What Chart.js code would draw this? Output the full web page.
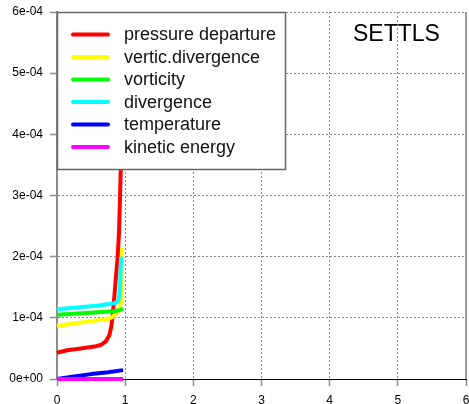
<!DOCTYPE html>
<html>
<head>
<meta charset="utf-8">
<script src="https://cdn.jsdelivr.net/npm/chart.js@4/dist/chart.umd.min.js"></script>
<style>
  html, body { margin: 0; padding: 0; background: #fff; }
  #wrap { width: 469px; height: 404px; position: relative; }
</style>
</head>
<body>
<div id="wrap"><canvas id="c" width="469" height="404"></canvas></div>
<script>
// ---- data ----
const seriesNames = ["pressure departure", "vertic.divergence", "vorticity", "divergence", "temperature", "kinetic energy"];
const seriesColors = ["#ff0000", "#ffff00", "#00ff00", "#00ffff", "#0000ff", "#ff00ff"];

const pressureX = [0, 0.15, 0.35, 0.55, 0.65, 0.72, 0.77, 0.80, 0.83, 0.86, 0.89, 0.91, 0.935, 0.96];
const pressureY = [0.43e-4, 0.47e-4, 0.50e-4, 0.53e-4, 0.56e-4, 0.62e-4, 0.72e-4, 0.88e-4, 1.2e-4, 1.6e-4, 2.0e-4, 2.4e-4, 3.4e-4, 5.0e-4];

const verticX = [0, 0.2, 0.4, 0.6, 0.75, 0.82, 0.87, 0.91, 0.94, 0.95, 0.955];
const verticY = [0.87e-4, 0.90e-4, 0.93e-4, 0.96e-4, 0.98e-4, 1.02e-4, 1.07e-4, 1.14e-4, 1.26e-4, 1.6e-4, 2.14e-4];

const vortX = [0, 0.3, 0.6, 0.85, 0.93, 0.97];
const vortY = [1.05e-4, 1.07e-4, 1.09e-4, 1.11e-4, 1.13e-4, 1.15e-4];

const divX = [0, 0.3, 0.6, 0.85, 0.9, 0.92, 0.93, 0.94];
const divY = [1.14e-4, 1.17e-4, 1.20e-4, 1.24e-4, 1.28e-4, 1.4e-4, 1.7e-4, 2.0e-4];

const tempX = [0, 0.25, 0.5, 0.75, 0.97];
const tempY = [0.0, 0.04e-4, 0.08e-4, 0.11e-4, 0.145e-4];

const keX = [0, 0.97];
const keY = [0, 0];

const xTickValues = [0, 1, 2, 3, 4, 5, 6];
const xTickLabels = ["0", "1", "2", "3", "4", "5", "6"];
const yTickValues = [0, 1e-4, 2e-4, 3e-4, 4e-4, 5e-4, 6e-4];
const yTickLabels = ["0e+00", "1e-04", "2e-04", "3e-04", "4e-04", "5e-04", "6e-04"];

const annotationText = "SETTLS";

// ---- build datasets ----
const xs = [pressureX, verticX, vortX, divX, tempX, keX];
const ys = [pressureY, verticY, vortY, divY, tempY, keY];
const datasets = seriesNames.map((name, i) => ({
  label: name,
  data: xs[i].map((x, j) => ({ x: x, y: ys[i][j] })),
  borderColor: seriesColors[i],
  backgroundColor: seriesColors[i],
  borderWidth: 4,
  pointRadius: 0,
  tension: 0,
  fill: false,
  clip: false,
  borderCapStyle: 'butt',
  borderJoinStyle: 'round',
  order: seriesNames.length - 1 - i
}));

const FONT = "'Liberation Sans', Arial, Helvetica, sans-serif";

const framePlugin = {
  id: 'frame',
  beforeDatasetsDraw(chart) {
    const { ctx, chartArea: a } = chart;
    ctx.save();
    ctx.strokeStyle = '#999999';
    ctx.lineWidth = 2;
    ctx.beginPath();
    ctx.moveTo(a.right, a.top);
    ctx.lineTo(a.right, a.bottom);
    ctx.stroke();
    ctx.restore();
  }
};

const legendPlugin = {
  id: 'boxLegend',
  afterDatasetsDraw(chart) {
    const { ctx, chartArea: a } = chart;
    const x0 = a.left, y0 = a.top, w = 228, h = 157;
    ctx.save();
    ctx.fillStyle = '#ffffff';
    ctx.fillRect(x0, y0, w, h);
    ctx.strokeStyle = '#666666';
    ctx.lineWidth = 1.5;
    ctx.strokeRect(x0 + 0.5, y0 + 0.5, w, h);
    ctx.font = "18px " + FONT;
    ctx.textBaseline = 'middle';
    ctx.fillStyle = '#111111';
    chart.data.datasets.forEach((ds, i) => {
      const y = y0 + 22.5 + i * 22.5;
      ctx.strokeStyle = ds.borderColor;
      ctx.lineWidth = 4;
      ctx.lineCap = 'round';
      ctx.beginPath();
      ctx.moveTo(x0 + 16, y);
      ctx.lineTo(x0 + 51, y);
      ctx.stroke();
      ctx.fillText(ds.label, x0 + 67, y + 1);
    });
    // annotation text
    ctx.font = "23px " + FONT;
    ctx.textBaseline = 'alphabetic';
    ctx.fillStyle = '#000000';
    ctx.fillText(annotationText, 353, 41);
    ctx.restore();
  }
};

new Chart(document.getElementById('c'), {
  type: 'line',
  data: { datasets: datasets },
  plugins: [framePlugin, legendPlugin],
  options: {
    responsive: false,
    animation: false,
    events: [],
    layout: { padding: { top: 12, right: 3, left: 0, bottom: 0 } },
    plugins: { legend: { display: false }, tooltip: { enabled: false }, title: { display: false } },
    scales: {
      x: {
        type: 'linear',
        min: 0, max: 6,
        afterBuildTicks(scale) { scale.ticks = xTickValues.map(v => ({ value: v })); },
        afterFit(scale) { scale.height = 25; scale.paddingLeft = 0; scale.paddingRight = 0; },
        ticks: {
          callback: (v, i) => xTickLabels[i],
          font: { family: FONT, size: 12 },
          color: '#000',
          padding: 7,
          maxRotation: 0,
          autoSkip: false
        },
        grid: {
          color: (c) => (c.index === 0 ? 'rgba(0,0,0,0)' : '#8c8c8c'),
          lineWidth: 1,
          drawTicks: true,
          tickLength: 7,
          tickColor: '#8c8c8c',
          tickWidth: 1.5,
          tickBorderDash: []
        },
        border: { display: true, color: '#000000', width: 1, dash: [2, 2] }
      },
      y: {
        type: 'linear',
        min: 0, max: 6e-4,
        afterBuildTicks(scale) { scale.ticks = yTickValues.map(v => ({ value: v })); },
        afterFit(scale) { scale.width = 57; scale.paddingTop = 0; scale.paddingBottom = 0; },
        ticks: {
          callback: (v, i) => yTickLabels[i],
          font: { family: FONT, size: 12 },
          color: '#000',
          padding: 7,
          autoSkip: false
        },
        grid: {
          color: (c) => (c.index === 0 ? 'rgba(0,0,0,0)' : '#8c8c8c'),
          lineWidth: 1,
          drawTicks: true,
          tickLength: 7,
          tickColor: '#8c8c8c',
          tickWidth: 1.5,
          tickBorderDash: []
        },
        border: { display: true, color: '#8c8c8c', width: 2, dash: [2, 2] }
      }
    }
  }
});
</script>
</body>
</html>
